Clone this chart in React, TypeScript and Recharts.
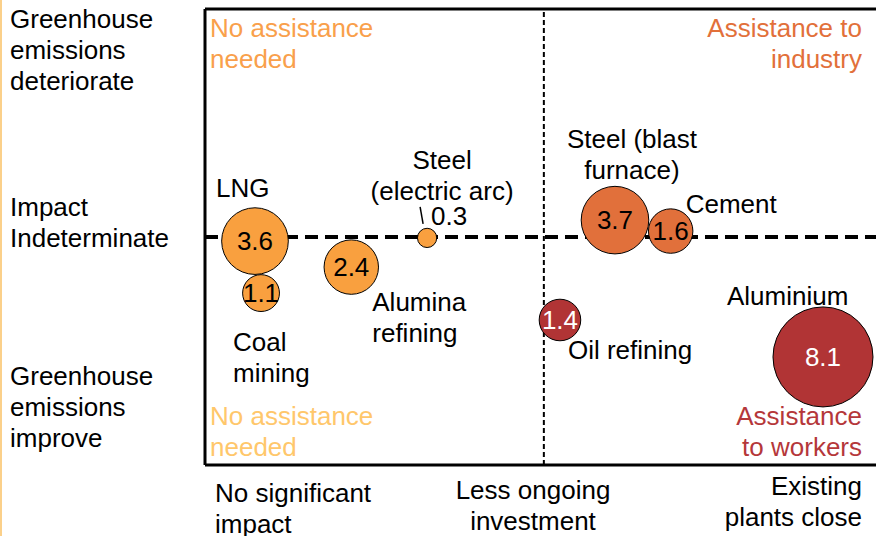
import { ScatterChart, Scatter, XAxis, YAxis, ZAxis, ReferenceLine } from "recharts";

// Sectors, positioned on the two qualitative axes (0–100 scale), bubble = jobs (thousands)
const SECTORS = [
  "LNG", "Coal mining", "Alumina refining", "Steel (electric arc)",
  "Steel (blast furnace)", "Cement", "Oil refining", "Aluminium",
];
const CLOSURE_IMPACT   = [7.45, 8.35, 21.8, 33.1, 61.1, 69.4, 52.9, 92.1];
const EMISSIONS_EFFECT = [49.1, 37.7, 43.4, 49.8, 53.7, 51.3, 31.8, 23.7];
const JOBS             = [3.6, 1.1, 2.4, 0.3, 3.7, 1.6, 1.4, 8.1];
const ASSISTANCE       = ["none", "none", "none", "none", "industry", "industry", "workers", "workers"];

const Y_TICKS = [
  ["Greenhouse", "emissions", "deteriorate"],
  ["Impact", "Indeterminate"],
  ["Greenhouse", "emissions", "improve"],
];
const X_TICKS = [
  ["No significant", "impact"],
  ["Less ongoing", "investment"],
  ["Existing", "plants close"],
];

const FONT = "'Liberation Sans', Arial, sans-serif";
const FS = 26;
const LH = 31;

const FILL: Record<string, string> = {
  none: "#F9A03F",
  industry: "#E1703B",
  workers: "#B13435",
};
const VALUE_INK: Record<string, string> = { none: "#000", industry: "#000", workers: "#fff" };

// label placement relative to bubble centre (px)
const LABELS: Record<string, { lines: string[]; dx: number; dy: number; anchor: "start" | "middle" | "end" }> = {
  "LNG": { lines: ["LNG"], dx: -39, dy: -44, anchor: "start" },
  "Coal mining": { lines: ["Coal", "mining"], dx: -28, dy: 58, anchor: "start" },
  "Alumina refining": { lines: ["Alumina", "refining"], dx: 21, dy: 44, anchor: "start" },
  "Steel (electric arc)": { lines: ["Steel", "(electric arc)"], dx: 15, dy: -69, anchor: "middle" },
  "Steel (blast furnace)": { lines: ["Steel (blast", "furnace)"], dx: 17, dy: -72, anchor: "middle" },
  "Cement": { lines: ["Cement"], dx: 15, dy: -18, anchor: "start" },
  "Oil refining": { lines: ["Oil refining"], dx: 8, dy: 39, anchor: "start" },
  "Aluminium": { lines: ["Aluminium"], dx: -96, dy: -52, anchor: "start" },
};

const data = SECTORS.map((name, i) => ({
  name,
  x: CLOSURE_IMPACT[i],
  y: EMISSIONS_EFFECT[i],
  z: JOBS[i],
  group: ASSISTANCE[i],
}));

function Bubble(props: any) {
  const { cx, cy, payload } = props;
  const r = props.width ? props.width / 2 : Math.sqrt((props.size || 0) / Math.PI);
  const lab = LABELS[payload.name];
  const small = r < 14;
  return (
    <g>
      <circle cx={cx} cy={cy} r={r} fill={FILL[payload.group]} stroke="#000" strokeWidth={1} />
      {small ? (
        <g>
          <line x1={cx - 7} y1={cy - 31} x2={cx - 4} y2={cy - 14} stroke="#000" strokeWidth={1.5} />
          <text x={cx + 4} y={cy - 13} fontSize={FS} fontFamily={FONT} fill="#000">{payload.z.toFixed(1)}</text>
        </g>
      ) : (
        <text x={cx} y={cy} dy="0.36em" textAnchor="middle" fontSize={FS} fontFamily={FONT} fill={VALUE_INK[payload.group]}>
          {payload.z.toFixed(1)}
        </text>
      )}
      {lab && (
        <text x={cx + lab.dx} y={cy + lab.dy} textAnchor={lab.anchor} fontSize={FS} fontFamily={FONT} fill="#000">
          {lab.lines.map((l, k) => (
            <tspan key={k} x={cx + lab.dx} dy={k === 0 ? 0 : LH}>{l}</tspan>
          ))}
        </text>
      )}
    </g>
  );
}

function Lines({ x, y, lines, anchor = "start", fill = "#000" }: any) {
  return (
    <text x={x} y={y} textAnchor={anchor} fontSize={FS} fontFamily={FONT} fill={fill}>
      {lines.map((l: string, k: number) => (
        <tspan key={k} x={x} dy={k === 0 ? 0 : LH}>{l}</tspan>
      ))}
    </text>
  );
}

export default function App() {
  return (
    <div style={{ position: "absolute", left: 0, top: 0, width: 876, height: 536, background: "#fff" }}>
      <ScatterChart width={876} height={536} margin={{ top: 9, right: 0, bottom: 71, left: 205 }}>
        <XAxis type="number" dataKey="x" domain={[0, 100]} hide />
        <YAxis type="number" dataKey="y" domain={[0, 100]} hide />
        <ZAxis type="number" dataKey="z" domain={[0, 8.1]} range={[0, Math.PI * 50 * 50]} />
        <ReferenceLine y={50} stroke="#000" strokeWidth={4} strokeDasharray="13 7" />
        <ReferenceLine x={50.5} stroke="#000" strokeWidth={2} strokeDasharray="5 3" />
        <ReferenceLine x={0} stroke="#000" strokeWidth={3} />
        <ReferenceLine y={0} stroke="#000" strokeWidth={3} />
        <ReferenceLine y={100} stroke="#000" strokeWidth={3} />
        <Scatter data={data} shape={<Bubble />} isAnimationActive={false} />
      </ScatterChart>
      <svg width={876} height={536} style={{ position: "absolute", left: 0, top: 0, pointerEvents: "none" }}>
        <line x1={1} y1={0} x2={1} y2={536} stroke="#FBD08A" strokeWidth={2} />
        <Lines x={10} y={28} lines={Y_TICKS[0]} />
        <Lines x={10} y={216} lines={Y_TICKS[1]} />
        <Lines x={10} y={385} lines={Y_TICKS[2]} />
        <Lines x={215} y={502} lines={X_TICKS[0]} />
        <Lines x={533} y={499} lines={X_TICKS[1]} anchor="middle" />
        <Lines x={862} y={495} lines={X_TICKS[2]} anchor="end" />
        <Lines x={210} y={37} lines={["No assistance", "needed"]} fill="#F9A04B" />
        <Lines x={862} y={37} lines={["Assistance to", "industry"]} anchor="end" fill="#E2703A" />
        <Lines x={210} y={425} lines={["No assistance", "needed"]} fill="#FFC76B" />
        <Lines x={862} y={425} lines={["Assistance", "to workers"]} anchor="end" fill="#B5373A" />
      </svg>
    </div>
  );
}
